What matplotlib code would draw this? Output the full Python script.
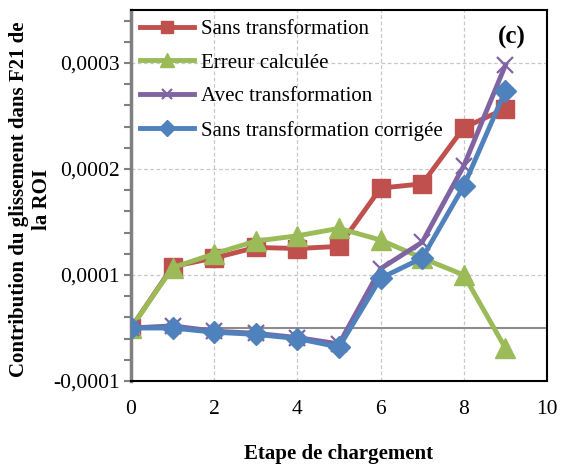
import matplotlib
matplotlib.use("Agg")
import matplotlib.pyplot as plt
from matplotlib.ticker import FixedLocator

plt.rcParams['font.family'] = ['Liberation Serif', 'DejaVu Serif']

# load steps and slip contribution in the ROI (values in units of 1e-4)
etapes = [0, 1, 2, 3, 4, 5, 6, 7, 8, 9]
sans_transfo = [0, 0.58, 0.66, 0.76, 0.75, 0.77, 1.32, 1.36, 1.89, 2.07]
erreur_calc = [0, 0.57, 0.70, 0.82, 0.87, 0.94, 0.83, 0.66, 0.50, -0.19]
avec_transfo = [0, 0.02, -0.03, -0.05, -0.09, -0.15, 0.56, 0.81, 1.53, 2.48]
sans_transfo_corr = [0, 0.00, -0.04, -0.06, -0.10, -0.18, 0.47, 0.66, 1.34, 2.24]

noms = ["Sans transformation", "Erreur calculée", "Avec transformation",
        "Sans transformation corrigée"]
y_ticks = [-0.00005, 0.00005, 0.00015, 0.00025]
y_ticklabels = ["-0,0001", "0,0001", "0,0002", "0,0003"]
x_ticks = [0, 2, 4, 6, 8, 10]

fig = plt.figure(figsize=(5.63, 4.66), dpi=100)
ax = fig.add_axes([0.2327, 0.1824, 0.7389, 0.7961])

styles = [
    dict(color="#C0504D", marker="s", ms=13),
    dict(color="#9BBB59", marker="^", ms=14),
    dict(color="#8064A2", marker="x", ms=11, mew=1.6),
    dict(color="#4F81BD", marker="D", ms=11),
]
series = [sans_transfo, erreur_calc, avec_transfo, sans_transfo_corr]
for vals, nom, st in zip(series, noms, styles):
    ax.plot(etapes, [v * 1e-4 for v in vals], lw=3.5, label=nom, zorder=3, **st)

ax.axhline(0, color="#8c8c8c", lw=1.5, zorder=2)

ax.set_xlim(0, 10)
ax.set_ylim(-0.00005, 0.0003)
ax.xaxis.set_major_locator(FixedLocator(x_ticks))
ax.set_xticklabels([str(t) for t in x_ticks])
ax.yaxis.set_major_locator(FixedLocator(y_ticks))
ax.set_yticklabels(y_ticklabels)
ax.yaxis.set_minor_locator(FixedLocator([-0.00005 + 0.00002 * i for i in range(18)]))

ax.grid(True, which="major", color="#c8c8c8", ls=(0, (3, 2)), lw=0.9, zorder=1)
ax.tick_params(axis="x", length=0, labelsize=15.5, pad=14)
ax.tick_params(axis="y", which="both", direction="out", length=5, width=1.5,
               color="#808080", labelsize=15.5, pad=3)

for s in ["top", "right", "bottom"]:
    ax.spines[s].set_color("black")
    ax.spines[s].set_linewidth(1.5)
ax.spines["left"].set_color("#808080")
ax.spines["left"].set_linewidth(2.5)

ax.set_xlabel("Etape de chargement", fontsize=15, fontweight="bold", labelpad=18)
ax.set_ylabel("Contribution du glissement dans F21 de\nla ROI", fontsize=15,
              fontweight="bold", linespacing=1.2)
ax.yaxis.set_label_coords(-0.19, 0.49)

ax.text(0.916, 0.927, "(c)", transform=ax.transAxes, fontsize=18,
        fontweight="bold", ha="center", va="center")

leg = ax.legend(loc="upper left", frameon=False, fontsize=15, handlelength=2.55,
                handletextpad=0.34, labelspacing=0.68, borderaxespad=0.35,
                markerscale=0.7, borderpad=0.1)

fig.savefig("out.png", dpi=100)
